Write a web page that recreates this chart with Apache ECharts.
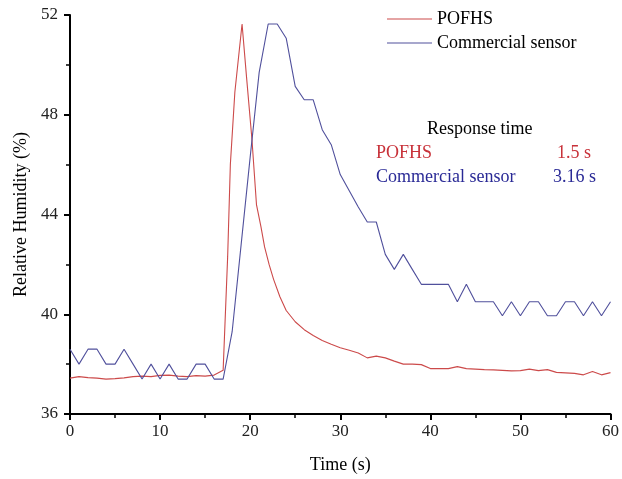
<!DOCTYPE html>
<html>
<head>
<meta charset="utf-8">
<script src="https://cdn.jsdelivr.net/npm/echarts@6/dist/echarts.min.js"></script>
<style>html,body{margin:0;padding:0;background:#fff;}#c{width:622px;height:479px;}</style>
</head>
<body>
<div id="c"></div>
<script>
var seriesNames = ['POFHS', 'Commercial sensor'];
var redTimes = [0,1,2,3,4,5,6,7,8,9,10,11,12,13,14,15,16,17,17.5,17.8,18.3,19.1,19.6,20.2,20.7,21.2,21.6,22.1,22.6,23.3,24,25,26,27,28,29,30,31,32,33,34,35,36,37,38,39,40,41,42,43,44,45,46,47,48,49,50,51,52,53,54,55,56,57,58,59,60];
var redValues = [37.44,37.5,37.46,37.44,37.4,37.42,37.45,37.5,37.52,37.5,37.55,37.56,37.52,37.5,37.54,37.52,37.56,37.75,42.3,46.0,48.9,51.64,49.5,47.0,44.4,43.5,42.7,42.0,41.4,40.7,40.15,39.7,39.38,39.15,38.95,38.8,38.66,38.56,38.45,38.25,38.32,38.25,38.12,38.0,38.0,37.98,37.82,37.82,37.82,37.9,37.82,37.8,37.78,37.77,37.75,37.73,37.74,37.8,37.74,37.78,37.67,37.65,37.63,37.57,37.7,37.57,37.66];
var blueTimes = [0,1,2,3,4,5,6,7,8,9,10,11,12,13,14,15,16,17,18,19,20,21,22,23,24,25,26,27,28,29,30,31,32,33,34,35,36,37,38,39,40,41,42,43,44,45,46,47,48,49,50,51,52,53,54,55,56,57,58,59,60];
var blueValues = [38.6,38.0,38.6,38.6,38.0,38.0,38.6,38.0,37.4,38.0,37.4,38.0,37.4,37.4,38.0,38.0,37.4,37.4,39.3,42.8,46.3,49.7,51.64,51.64,51.07,49.14,48.6,48.6,47.4,46.8,45.6,44.95,44.3,43.7,43.7,42.4,41.8,42.4,41.8,41.2,41.2,41.2,41.2,40.5,41.2,40.5,40.5,40.5,39.94,40.5,39.94,40.5,40.5,39.94,39.94,40.5,40.5,39.94,40.5,39.94,40.5];
var xTicks = {min: 0, max: 60, interval: 10};
var yTicks = {min: 36, max: 52, interval: 4};
var annotation = {title: 'Response time', rows: [['POFHS', '1.5 s'], ['Commercial sensor', '3.16 s']]};

function pairs(t, v) { return t.map(function (x, i) { return [x, v[i]]; }); }

var FONT = '"Liberation Serif", "Times New Roman", serif';
var chart = echarts.init(document.getElementById('c'), null, {renderer: 'canvas'});
var axisCommon = {
  axisLine: {show: true, onZero: false, lineStyle: {color: '#000', width: 2}},
  axisTick: {show: true, inside: false, length: 6, lineStyle: {color: '#000', width: 2}},
  minorTick: {show: true, splitNumber: 2, length: 4, lineStyle: {color: '#000', width: 1.5}},
  splitLine: {show: false},
  nameLocation: 'middle',
  nameTextStyle: {fontFamily: FONT, fontSize: 18, color: '#000'},
  axisLabel: {fontFamily: FONT, fontSize: 17, color: '#222'}
};
var option = {
  backgroundColor: '#fff',
  animation: false,
  grid: {left: 70, right: 6, top: 15, bottom: 63, containLabel: false},
  legend: {
    data: seriesNames,
    orient: 'vertical',
    left: 382, top: 5,
    icon: 'rect', itemWidth: 45, itemHeight: 1.2, itemGap: 6,
    textStyle: {fontFamily: FONT, fontSize: 18, color: '#000'}
  },
  xAxis: Object.assign({}, axisCommon, {
    type: 'value', min: xTicks.min, max: xTicks.max, interval: xTicks.interval,
    name: 'Time (s)', nameGap: 42,
    axisLabel: Object.assign({}, axisCommon.axisLabel, {margin: 9, showMaxLabel: true, showMinLabel: true})
  }),
  yAxis: Object.assign({}, axisCommon, {
    type: 'value', min: yTicks.min, max: yTicks.max, interval: yTicks.interval,
    name: 'Relative Humidity (%)', nameGap: 40,
    axisLabel: Object.assign({}, axisCommon.axisLabel, {margin: 12})
  }),
  series: [
    {name: seriesNames[0], type: 'line', data: pairs(redTimes, redValues), symbol: 'none',
     lineStyle: {color: '#cc4a4a', width: 1.1}, itemStyle: {color: '#cc4a4a'}},
    {name: seriesNames[1], type: 'line', data: pairs(blueTimes, blueValues), symbol: 'none',
     lineStyle: {color: '#50509c', width: 1.1}, itemStyle: {color: '#50509c'}}
  ],
  graphic: [
    {type: 'text', left: 427, top: 120, style: {text: annotation.title, font: '18px ' + FONT, fill: '#000'}},
    {type: 'text', left: 376, top: 144, style: {text: annotation.rows[0][0], font: '18px ' + FONT, fill: '#c8323a'}},
    {type: 'text', left: 557, top: 144, style: {text: annotation.rows[0][1], font: '18px ' + FONT, fill: '#c8323a'}},
    {type: 'text', left: 376, top: 168, style: {text: annotation.rows[1][0], font: '18px ' + FONT, fill: '#2a2a96'}},
    {type: 'text', left: 553, top: 168, style: {text: annotation.rows[1][1], font: '18px ' + FONT, fill: '#2a2a96'}}
  ]
};
chart.setOption(option);
</script>
</body>
</html>
